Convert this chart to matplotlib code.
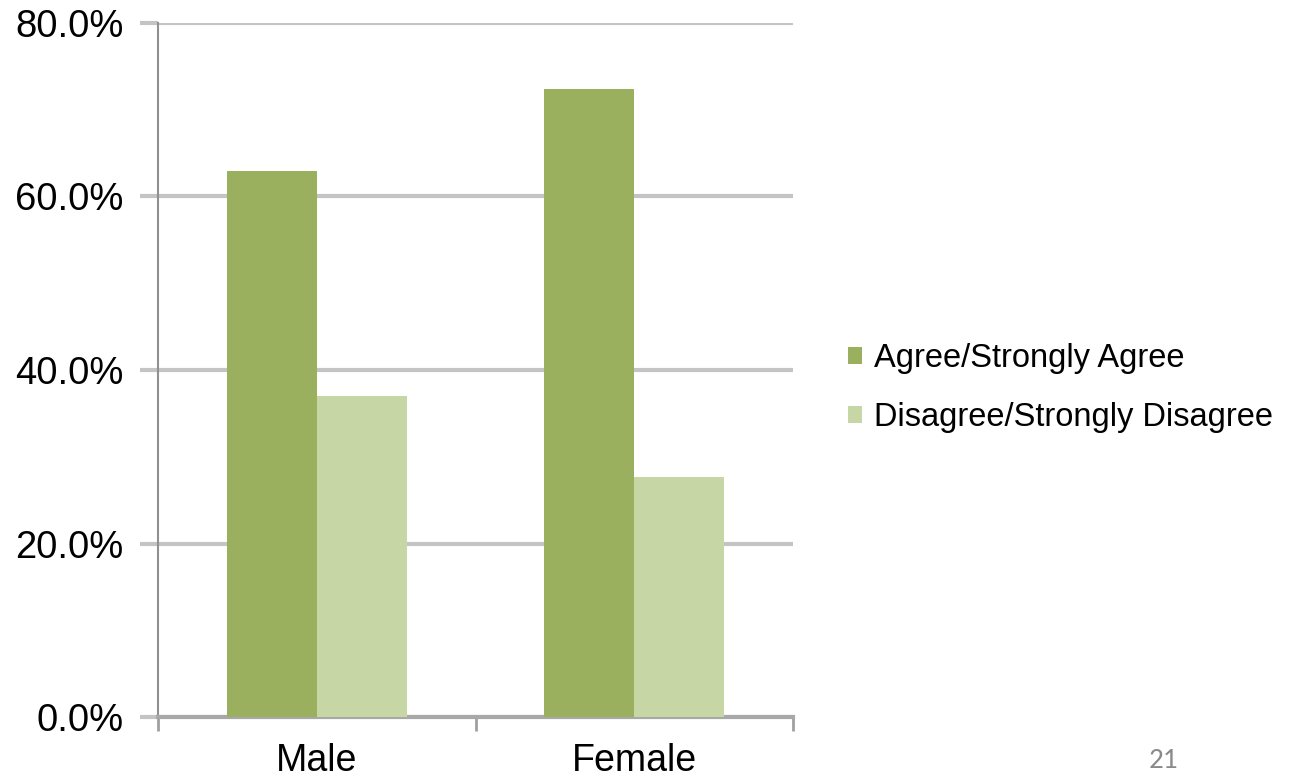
import matplotlib
matplotlib.use('Agg')
import matplotlib.pyplot as plt
import numpy as np
from matplotlib.ticker import PercentFormatter

plt.rcParams['font.family'] = ['Liberation Sans', 'DejaVu Sans']

groups = ['Male', 'Female']
agree = [62.9, 72.4]
disagree = [37.0, 27.7]
series_names = ['Agree/Strongly Agree', 'Disagree/Strongly Disagree']
agree_color = '#9bb05e'
disagree_color = '#c6d6a5'
grid_color = '#c4c4c4'

fig = plt.figure(figsize=(12.93, 7.81), dpi=100)
ax = fig.add_axes([0.1222, 0.0819, 0.4911, 0.8887])

x = np.arange(len(groups))
w = 0.284
ax.bar(x - w / 2, agree, w, color=agree_color, label=series_names[0], zorder=3)
ax.bar(x + w / 2, disagree, w, color=disagree_color, label=series_names[1], zorder=3)

ax.set_xlim(-0.5, 1.5)
ax.set_ylim(0, 80)
ax.set_yticks([0, 20, 40, 60, 80])
ax.yaxis.set_major_formatter(PercentFormatter(decimals=1))
ax.yaxis.grid(True, color=grid_color, linewidth=3, zorder=0)

ax.set_xticks(x)
ax.set_xticklabels(groups)
ax.set_xticks([-0.5, 0.5, 1.5], minor=True)
ax.tick_params(axis='x', which='major', length=0, labelsize=27, pad=19)
ax.tick_params(axis='x', which='minor', length=10, width=2, color='#a0a0a0')
ax.tick_params(axis='y', length=13, width=3, color=grid_color, labelsize=27.5, pad=12)

for side in ['top', 'right']:
    ax.spines[side].set_visible(False)
ax.spines['left'].set_color('#909090')
ax.spines['left'].set_linewidth(1.5)
ax.spines['bottom'].set_color('#a8a8a8')
ax.spines['bottom'].set_linewidth(3)

ax.legend(loc='center left', bbox_to_anchor=(1.086, 0.474), frameon=False,
          fontsize=23.5, handlelength=0.45, handleheight=0.45, handletextpad=0.35,
          labelspacing=0.85, borderpad=0, borderaxespad=0)

fig.text(0.8995, 0.0166, '21', fontsize=21, color='#8a8a8a', ha='center', va='baseline',
         family=['Carlito', 'Liberation Sans', 'DejaVu Sans'])

fig.savefig('out.png', dpi=100)
